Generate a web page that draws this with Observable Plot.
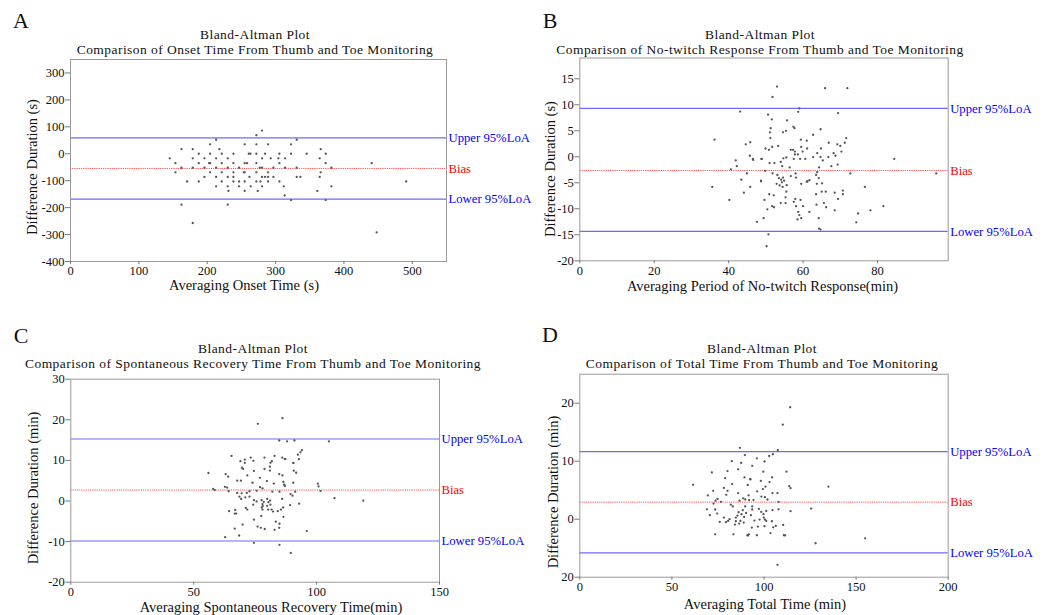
<!DOCTYPE html>
<html>
<head>
<meta charset="utf-8">
<script src="https://cdn.jsdelivr.net/npm/d3@7"></script>
<script src="https://cdn.jsdelivr.net/npm/@observablehq/plot@0.6"></script>
<style>
  html, body { margin: 0; padding: 0; background: #fff; }
  #root { position: relative; width: 1050px; height: 615px; overflow: hidden; background: #fff;
          font-family: "Liberation Serif", "Times New Roman", serif; color: #111; }
  #root svg { position: absolute; }
  .lbl { position: absolute; white-space: nowrap; line-height: 1; text-align: center; }
</style>
</head>
<body>
<div id="root"></div>
<script>
// ---------- Panel A: onset time (s) ----------
const aPoints = [
  [280.2,86],
  [271.9,69],
  [213,52],[330.9,52],
  [204.2,35],[254.8,35],[271.9,35],[289,35],[322.6,35],
  [162.3,17],[178.8,17],[217.8,17],[366,17],
  [187.6,0],[204.2,0],[221.2,0],[238.3,0],[260.7,0],[263.2,0],[271.9,0],[284.6,0],[305.6,0],[322.6,0],[345.5,0],[373.3,0],
  [145.2,-17],[178.8,-17],[195.9,-17],[213,-17],[230,-17],[280.2,-17],[292.9,-17],[304.1,-17],[313.9,-17],[364.5,-17],
  [153.5,-35],[187.6,-35],[202.8,-35],[204.2,-35],[221.2,-35],[238.3,-35],[254.8,-35],[258.3,-35],[271.9,-35],[305.6,-35],[373.3,-35],[440.5,-35],
  [162.3,-52],[178.8,-52],[195.9,-52],[213,-52],[230,-52],[246.6,-52],[276.8,-52],[280.2,-52],[296.8,-52],[313.9,-52],[330.9,-52],[381.6,-52],
  [153.5,-69],[204.2,-69],[221.2,-69],[238.3,-69],[253.4,-69],[254.8,-69],[271.9,-69],[289,-69],[366,-69],
  [195.9,-86],[213,-86],[230,-86],[238.3,-86],[261.7,-86],[280.2,-86],[284.6,-86],[289,-86],[296.8,-86],[330.9,-86],[336.3,-86],[364.5,-86],
  [170.6,-103],[187.6,-103],[221.2,-103],[238.3,-103],[246.6,-103],[254.8,-103],[271.9,-103],[277.8,-103],[289,-103],[305.6,-103],[491,-103],
  [213,-121],[230,-121],[246.6,-121],[263.6,-121],[280.2,-121],[311.9,-121],[381.6,-121],
  [231,-138],[254.8,-138],[273.9,-138],[361.1,-138],
  [313.3,-155],
  [322.6,-172],[373.3,-172],
  [162.3,-189],[230,-189],
  [178.8,-257],
  [447.8,-292]
];
const aLines = [59, -54.5, -168.5];           // upper LoA, bias, lower LoA
const aXTicks = [0, 100, 200, 300, 400, 500];
const aYTicks = [-400, -300, -200, -100, 0, 100, 200, 300];

// ---------- Panel B: no-twitch response ----------
const bPoints = [
  [43.1,8.7],[36.2,3.3],[44.6,2.4],[45.8,2.8],[45.7,0.2],[46.5,-0.4],[46.6,-0.6],[48.9,-0.4],[41.9,-0.7],[42.2,-1.8],
  [40.6,-2.4],[44.9,-3.2],[43.4,-4.4],[48.7,-4.7],[35.6,-5.8],[45.8,-5.8],[44.1,-6.9],[40.2,-8.3],[47.6,-12.5],
  [53.0,13.5],[51.8,11.5],[65.9,13.2],[71.9,13.2],[59.0,9.3],[58.7,8.65],[69.4,8.4],[50.6,8.1],[51.6,7.2],[55.7,7.0],
  [57.4,5.8],[57.7,5.5],[51.3,5.5],[64.7,5.3],[51.1,4.7],[55.4,5.0],[54.6,4.7],[51.2,3.6],[59.4,3.3],[62.7,4.2],
  [71.6,3.6],[71.2,2.7],[69.2,2.4],[70.0,2.1],[66.9,2.7],[53.3,2.1],[51.7,1.9],[49.9,1.6],[50.8,1.35],[56.7,1.35],
  [57.3,1.35],[57.8,1.0],[59.5,1.9],[61.1,1.6],[64.8,1.6],[59.9,1.0],[61.0,3.1],[63.8,0.7],[70.3,1.0],[68.2,0.7],
  [68.7,0.2],[58.6,0.45],[57.8,0.45],[55.5,-0.13],[54.7,-0.3],[60.6,-0.4],[59.2,-0.4],[57.5,-0.4],[64.7,-0.06],[65.3,-0.7],
  [66.8,-0.06],[62.7,-0.06],[48.8,-0.4],[51.0,-1.2],[52.3,-1.2],[54.0,-1.0],[54.4,-1.8],[56.4,-2.05],[64.3,-2.05],[67.6,-1.8],
  [69.3,-1.5],[84.5,-0.4],[49.8,-2.7],[63.8,-2.95],[51.8,-3.2],[53.1,-3.5],[56.7,-3.7],[58.0,-3.2],[58.1,-4.0],[72.7,-3.2],
  [63.5,-3.5],[64.2,-4.1],[53.5,-4.1],[54.1,-4.4],[54.6,-4.0],[54.9,-4.6],[54.3,-4.9],[52.9,-5.2],[53.7,-5.5],[55.6,-5.45],
  [54.5,-5.8],[48.7,-4.6],[59.5,-5.2],[61.2,-4.7],[61.7,-4.5],[61.0,-4.8],[65.1,-5.1],[63.7,-5.2],[76.6,-5.8],[55.5,-6.7],
  [52.1,-7.4],[50.9,-7.2],[65.0,-6.7],[66.1,-6.7],[63.5,-7.2],[68.5,-6.9],[70.7,-6.5],[70.7,-7.2],[55.3,-7.8],[57.9,-8.1],
  [57.5,-8.65],[59.3,-8.3],[69.4,-8.1],[49.6,-8.3],[54.0,-8.9],[55.3,-8.9],[65.6,-8.9],[63.6,-9.2],[58.1,-9.5],[60.0,-9.5],
  [51.7,-9.5],[52.2,-9.7],[66.2,-9.7],[81.6,-9.5],[50.4,-10.1],[68.5,-10.3],[78.1,-10.3],[58.7,-10.6],[61.7,-10.6],[59.0,-11.2],
  [59.5,-11.8],[58.5,-12.05],[49.4,-11.8],[64.2,-11.8],[74.8,-10.9],[74.3,-12.6],[64.3,-13.8],[64.7,-14.0],[50.7,-14.9],[50.2,-17.2],
  [95.8,-3.2]
];
const bLines = [9.3, -2.63, -14.36];
const bXTicks = [0, 20, 40, 60, 80];
const bYTicks = [-20, -15, -10, -5, 0, 5, 10, 15];

// ---------- Panel C: spontaneous recovery time ----------
const cPoints = [
  [86.1,20.4],[76.1,19.0],[84.8,14.9],[65.4,11.1],[73.2,10.7],[78.8,10.7],[82.9,11.1],[86.0,10.7],[87.0,10.4],[70.8,10.2],
  [69.0,9.8],[74.3,9.9],[81.8,9.8],[81.2,9.4],[70.8,9.4],[69.6,8.2],[70.1,7.9],[78.8,7.9],[81.0,8.45],[81.0,7.5],
  [74.5,7.4],[63.0,6.6],[64.0,6.0],[71.8,6.3],[84.8,6.6],[86.1,6.3],[56.0,6.9],[76.9,5.7],[67.7,5.0],[69.2,5.0],
  [79.8,4.9],[73.9,4.5],[86.5,4.7],[86.8,4.0],[87.1,3.7],[82.6,4.3],[77.0,3.4],[62.7,3.5],[63.6,3.3],[57.9,3.0],
  [58.6,2.7],[64.2,2.4],[67.7,2.0],[69.5,1.9],[71.6,2.0],[72.7,2.4],[75.6,2.5],[78.0,3.1],[82.0,2.3],[84.9,2.3],
  [68.6,1.06],[69.3,0.5],[71.0,0.9],[72.7,1.1],[74.5,0.2],[75.6,-0.1],[77.6,0.2],[79.9,0.5],[80.4,-0.3],[81.1,0.1],
  [78.5,-0.2],[78.0,-0.75],[77.7,-1.6],[78.1,-1.25],[79.9,-1.2],[81.2,-0.9],[81.7,-2.1],[82.3,-2.6],[80.3,-2.1],[78.0,-2.1],
  [86.0,0.5],[84.2,-2.5],[85.5,-2.1],[74.2,-0.9],[71.2,-1.7],[71.8,-2.1],[66.9,-2.2],[64.4,-2.5],[67.3,-3.1],[66.7,-3.1],
  [77.5,-3.7],[74.5,-4.6],[69.9,-5.8],[83.4,-5.1],[84.9,-5.6],[84.8,-6.6],[76.0,-6.3],[77.3,-6.6],[78.9,-6.9],[82.9,-7.1],
  [66.7,-6.8],[68.5,-8.5],[62.8,-8.9],[74.5,-10.3],[84.9,-10.8],
  [88.0,14.7],[91.0,14.9],[105.0,14.7],[94.0,12.5],[93.4,12.0],[92.4,11.4],[92.8,10.3],[90.5,9.35],[90.6,9.4],[87.3,10.3],
  [90.7,7.46],[91.7,6.96],[90.5,4.5],[100.5,4.26],[100.8,3.6],[101.6,2.45],[91.3,2.3],[89.4,1.7],[90.2,1.3],[107.3,0.7],
  [119.0,0.07],[92.9,-0.67],[89.2,-1.0],[86.4,-1.6],[86.5,-3.9],[96.0,-7.4],[89.5,-12.8]
];
const cLines = [15.27, 2.7, -9.85];
const cXTicks = [0, 50, 100, 150];
const cYTicks = [-20, -10, 0, 10, 20, 30];

// ---------- Panel D: total time ----------
const dPoints = [
  [110.2,16.3],[107.5,11.9],[86.9,12.3],[89.6,11.05],[104.8,11.2],[102.8,10.9],[82.5,10.0],[87.6,9.7],[96.1,10.5],[100.3,9.95],
  [93.6,9.2],[80.2,8.3],[86.0,8.6],[71.7,8.06],[99.6,8.2],[89.4,7.2],[92.7,6.85],[92.4,6.9],[78.9,7.08],[104.4,7.2],
  [98.3,6.6],[103.0,6.4],[82.7,6.05],[61.5,5.93],[78.2,5.4],[91.2,5.9],[100.8,5.6],[99.4,5.2],[104.6,4.5],[107.3,4.5],
  [72.4,4.9],[80.2,4.9],[86.0,4.5],[96.3,4.8],[69.5,4.1],[79.5,4.2],[91.6,4.1],[98.6,3.9],[88.7,3.6],[100.5,3.8],
  [89.8,3.4],[91.9,3.3],[94.3,3.3],[86.7,3.2],[101.9,3.4],[107.9,3.0],[74.8,3.5],[73.7,3.2],[76.6,3.0],[72.6,2.7],
  [82.0,2.5],[83.1,2.2],[69.0,1.7],[73.5,1.67],[89.8,2.2],[93.6,2.2],[93.6,1.67],[97.2,1.78],[101.2,1.43],[104.6,1.55],
  [107.9,1.7],[70.6,0.69],[74.6,0.97],[86.2,1.2],[88.5,1.55],[87.8,0.86],[90.3,1.09],[85.6,0.63],[84.7,0.28],[89.2,0.4],
  [92.9,0.69],[98.5,1.26],[99.7,0.86],[78.2,0.28],[81.3,0],[76.0,-0.47],[79.3,-0.52],[80.5,-0.3],[84.7,-0.35],[87.2,-0.3],
  [89.0,-0.58],[94.8,-0.24],[97.6,-0.06],[99.9,0.28],[100.5,-0.06],[101.2,-0.3],[104.3,-0.35],[84.2,-0.93],[86.5,-0.75],[93.4,-1.45],
  [96.7,-1.27],[100.3,-1.2],[105.0,-1.4],[106.4,-1.16],[110.4,-0.98],[73.5,-2.6],[83.4,-2.6],[91.0,-2.77],[91.3,-2.8],[91.8,-2.6],
  [96.1,-2.77],[103.5,-2.4],[110.8,-2.77],[111.5,-2.8],[107.3,-7.86],[114.2,19.3],[112.2,8.2],[113.7,5.7],[114.4,5.35],[135.0,5.6],
  [114.4,1.38],[125.6,1.84],[128.0,-4.15],[154.9,-3.3]
];
const dLines = [11.64, 2.94, -5.82];
const dXTicks = [0, 50, 100, 150, 200];
const dYTicks = [-10, 0, 10, 20];
const dYTickLabels = ["20", "0", "10", "20"];

// ---------- shared text ----------
const lineLabels = ["Upper 95%LoA", "Bias", "Lower 95%LoA"];
const lineColors = ["#0000ff", "#ff0000", "#0000ff"];

const root = document.getElementById("root");

function addText(lines, cx, cy, size, opts = {}) {
  const d = document.createElement("div");
  d.className = "lbl";
  [].concat(lines).forEach((t, i) => {
    if (i) d.appendChild(document.createElement("br"));
    d.appendChild(document.createTextNode(t));
  });
  d.style.left = cx + "px";
  d.style.top = cy + "px";
  d.style.fontSize = size + "px";
  if (opts.lineHeight) d.style.lineHeight = opts.lineHeight + "px";
  if (opts.spacing) d.style.letterSpacing = opts.spacing + "px";
  d.style.transform = "translate(-50%,-50%)" + (opts.rotate ? " rotate(-90deg)" : "");
  if (opts.color) d.style.color = opts.color;
  root.appendChild(d);
}

function panel(o) {
  const pts = o.points.map(([x, y]) => ({x, y}));
  const lines = o.lines.map((v, i) => ({v, t: lineLabels[i], c: lineColors[i]}));
  const svg = Plot.plot({
    width: o.w, height: o.h,
    marginLeft: o.m[0], marginRight: o.m[1], marginTop: o.m[2], marginBottom: o.m[3],
    x: {domain: o.xDomain},
    y: {domain: o.yDomain},
    color: {type: "identity"},
    style: {fontFamily: "'Liberation Serif', 'Times New Roman', serif", fontSize: "12.5px", color: "#111", background: "transparent", overflow: "visible"},
    marks: [
      Plot.ruleY(lines.filter(d => d.t !== "Bias"), {y: "v", stroke: "#6a6aff", strokeWidth: 1.2}),
      Plot.ruleY(lines.filter(d => d.t === "Bias"), {y: "v", stroke: "#ff4a4a", strokeWidth: 1, strokeDasharray: "1.2,1"}),
      Plot.dot(pts, {x: "x", y: "y", r: 1.15, fill: "#555", stroke: null}),
      Plot.frame({stroke: "#9a9a9a"}),
      Plot.text(lines, {y: "v", text: "t", fill: "c", frameAnchor: "right", textAnchor: "start", dx: 2, fontSize: 12.7}),
      Plot.axisX({ticks: o.xTicks, tickFormat: d => String(d), tickSize: 3, tickPadding: 2, label: null, stroke: "#777", fill: "#111"}),
      Plot.axisY({ticks: o.yTicks, tickFormat: o.yFormat || (d => String(d)), tickSize: 5, tickPadding: 1, label: null, stroke: "#777", fill: "#111"})
    ]
  });
  svg.style.left = o.left + "px";
  svg.style.top = o.top + "px";
  root.appendChild(svg);
}

panel({points: aPoints, lines: aLines, xDomain: [0, 550], yDomain: [-400, 350], xTicks: aXTicks, yTicks: aYTicks,
       left: 0, top: 0, w: 525, h: 300, m: [70, 79, 59, 39]});
panel({points: bPoints, lines: bLines, xDomain: [0, 99], yDomain: [-20, 19], xTicks: bXTicks, yTicks: bYTicks,
       left: 525, top: 0, w: 525, h: 300, m: [54.3, 102.3, 57.5, 39.7]});
panel({points: cPoints, lines: cLines, xDomain: [0, 150], yDomain: [-20, 30], xTicks: cXTicks, yTicks: cYTicks,
       left: 0, top: 300, w: 525, h: 315, m: [70.3, 86, 78.7, 33.3]});
panel({points: dPoints, lines: dLines, xDomain: [0, 200], yDomain: [-10, 25], xTicks: dXTicks, yTicks: dYTicks,
       yFormat: d => dYTickLabels[dYTicks.indexOf(d)],
       left: 525, top: 300, w: 525, h: 315, m: [54.3, 102.3, 73.7, 38.3]});

// panel letters
addText("A", 21, 21, 22);
addText("B", 550, 21, 22);
addText("C", 21, 336, 22);
addText("D", 550, 335, 22);

// two-line titles (one block each)
const tOpts = {lineHeight: 15, spacing: 0.45};
addText(["Bland-Altman Plot", "Comparison of Onset Time From Thumb and Toe Monitoring"], 255, 42, 13.5, tOpts);
addText(["Bland-Altman Plot", "Comparison of No-twitch Response From Thumb and Toe Monitoring"], 760, 42, 13.5, tOpts);
addText(["Bland-Altman Plot", "Comparison of Spontaneous Recovery Time From Thumb and Toe Monitoring"], 253, 356.3, 13.5, tOpts);
addText(["Bland-Altman Plot", "Comparison of Total Time From Thumb and Toe Monitoring"], 762, 356.3, 13.5, tOpts);

// axis titles
addText("Averaging Onset Time (s)", 244, 285, 14.5);
addText("Averaging Period of No-twitch Response(min)", 762.5, 286, 14.5);
addText("Averaging Spontaneous Recovery Time(min)", 271, 607, 14.5);
addText("Averaging Total Time (min)", 765, 603.5, 14.5);
addText("Difference Duration (s)", 32, 167, 14.5, {rotate: true});
addText("Difference Duration (s)", 549.5, 168.5, 14.5, {rotate: true});
addText("Difference Duration (min)", 32.5, 487.5, 14.5, {rotate: true});
addText("Difference Duration (min)", 553, 491.5, 14.5, {rotate: true});
</script>
</body>
</html>
